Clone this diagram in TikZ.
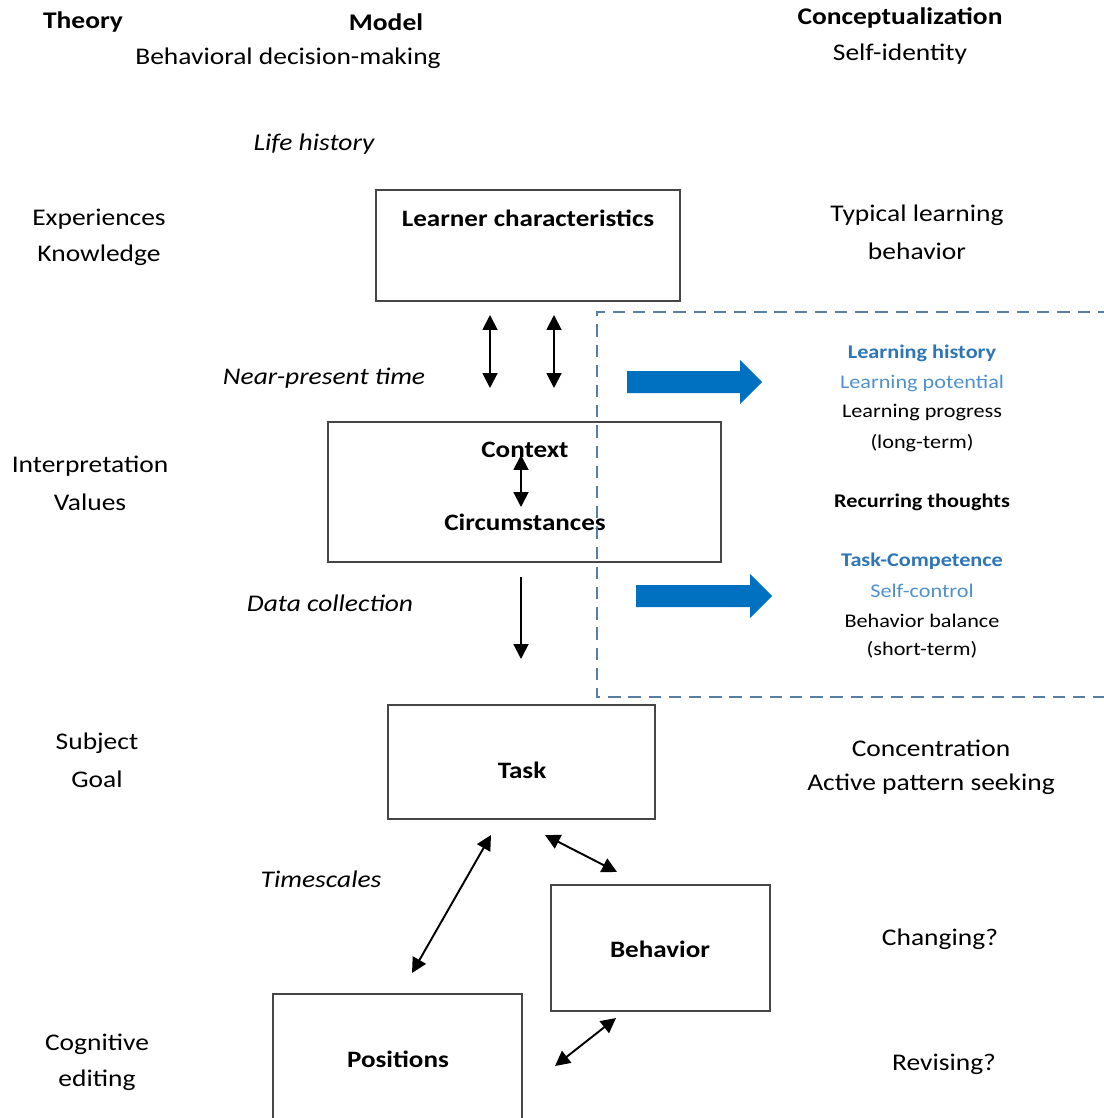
\documentclass[tikz,border=0pt]{standalone}
\usepackage{fontspec}
\setmainfont{Carlito}[FakeStretch=1.15]
\usetikzlibrary{arrows.meta}
\definecolor{arrowblue}{RGB}{0,112,192}
\definecolor{darkblue}{RGB}{46,117,182}
\definecolor{lightblue}{RGB}{80,145,205}
\definecolor{dashblue}{RGB}{88,126,164}
\definecolor{boxgray}{RGB}{70,70,70}

\begin{document}
\begin{tikzpicture}[x=0.02cm,y=-0.02cm,
    lbl/.style={font=\fontsize{13.6}{16}\selectfont},
    head/.style={font=\bfseries\fontsize{13.6}{16}\selectfont},
    ital/.style={font=\itshape\fontsize{13.6}{16}\selectfont},
    small/.style={font=\fontsize{11}{13}\selectfont},
    boxlbl/.style={font=\bfseries\fontsize{13.4}{15}\selectfont},
    modelbox/.style={draw=boxgray, line width=0.7pt, inner sep=0pt},
    link/.style={line width=1.1pt, {Triangle[length=8.5pt,width=8.5pt]}-{Triangle[length=8.5pt,width=8.5pt]}},
    onelink/.style={line width=1.1pt, -{Triangle[length=8.5pt,width=8.5pt]}}]

        \useasboundingbox (0,0) rectangle (1104,1118);
        \clip (0,0) rectangle (1104,1118);

        % column heads
        \node[head] (theory) at (83,22) {Theory};
        \node[head] (model) at (386,22) {Model};
        \node[lbl] (decision) at (288,58) {Behavioral decision-making};
        \node[head] (concept) at (900,18) {Conceptualization};
        \node[lbl] (identity) at (900,54) {Self-identity};

        % theory column
        \node[lbl] (exp) at (99,219) {Experiences};
        \node[lbl] (know) at (99,255) {Knowledge};
        \node[lbl] (interp) at (90,466) {Interpretation};
        \node[lbl] (values) at (90,502) {Values};
        \node[lbl] (subject) at (97,743) {Subject};
        \node[lbl] (goal) at (97,779) {Goal};
        \node[lbl] (cogn) at (97,1044) {Cognitive};
        \node[lbl] (edit) at (97,1080) {editing};

        % time labels
        \node[ital] (life) at (314,144) {Life history};
        \node[ital] (near) at (324,378) {Near-present time};
        \node[ital] (data) at (330,603) {Data collection};
        \node[ital] (times) at (321,879) {Timescales};

        % model boxes
        \node[modelbox, minimum width=6.08cm, minimum height=2.22cm] (learner) at (528,245.5) {};
        \node[boxlbl] (learnerlbl) at (528,218) {Learner characteristics};
        \node[modelbox, minimum width=7.86cm, minimum height=2.8cm] (context) at (524.5,492) {};
        \node[boxlbl] (ctx) at (525,450) {Context};
        \node[boxlbl] (circ) at (525,522) {Circumstances};
        \node[modelbox, minimum width=5.34cm, minimum height=2.28cm] (task) at (521.5,762) {};
        \node[boxlbl] (tasklbl) at (522,770) {Task};
        \node[modelbox, minimum width=4.38cm, minimum height=2.52cm] (behavior) at (660.5,948) {};
        \node[boxlbl] (behlbl) at (660,949) {Behavior};
        \node[modelbox, minimum width=4.98cm, minimum height=2.6cm] (positions) at (397.5,1059) {};
        \node[boxlbl] (poslbl) at (398,1059) {Positions};

        % connector ends
        \coordinate (a1t) at (490,315);
        \coordinate (a1b) at (490,388);
        \coordinate (a2t) at (554,315);
        \coordinate (a2b) at (554,388);
        \coordinate (ct) at (521,455);
        \coordinate (cb) at (521,507);
        \coordinate (dtop) at (521,577);
        \coordinate (dbot) at (521,659);
        \coordinate (tp1) at (491,835);
        \coordinate (tp2) at (412,973);
        \coordinate (tb1) at (545,835);
        \coordinate (tb2) at (617,872);
        \coordinate (pb1) at (555,1066);
        \coordinate (pb2) at (616,1018);

        \draw[link] (a1t) -- (a1b);
        \draw[link] (a2t) -- (a2b);
        \draw[link] (ct) -- (cb);
        \draw[onelink] (dtop) -- (dbot);
        \draw[link] (tp1) -- (tp2);
        \draw[link] (tb1) -- (tb2);
        \draw[link] (pb1) -- (pb2);

        % dashed frame
        \draw[dashblue, line width=1.2pt, dash pattern=on 7pt off 4.5pt]
            (1110,312) -- (597,312) -- (597,697) -- (1110,697);

        % blue arrows
        \fill[arrowblue] (627,371) -- (740,371) -- (740,360) -- (762,382)
            -- (740,404) -- (740,393) -- (627,393) -- cycle;
        \fill[arrowblue] (636,585) -- (750,585) -- (750,574) -- (772,596)
            -- (750,618) -- (750,607) -- (636,607) -- cycle;

        % conceptualization column
        \node[lbl] (typ1) at (917,215) {Typical learning};
        \node[lbl] (typ2) at (917,251) {behavior};
        \node[small, text=darkblue, font=\bfseries\fontsize{11}{13}\selectfont] (lhist) at (922,353) {Learning history};
        \node[small, text=lightblue] (lpot) at (922,383) {Learning potential};
        \node[small] (lprog) at (922,413) {Learning progress};
        \node[small] (lterm) at (922,443) {(long-term)};
        \node[small, font=\bfseries\fontsize{11}{13}\selectfont] (recur) at (922,502) {Recurring thoughts};
        \node[small, text=darkblue, font=\bfseries\fontsize{11}{13}\selectfont] (tcomp) at (922,561) {Task-Competence};
        \node[small, text=lightblue] (sctrl) at (922,591) {Self-control};
        \node[small] (bbal) at (922,621) {Behavior balance};
        \node[small] (sterm) at (922,650) {(short-term)};
        \node[lbl] (conc) at (931,748) {Concentration};
        \node[lbl] (seek) at (931,784) {Active pattern seeking};
        \node[lbl] (chg) at (940,939) {Changing?};
        \node[lbl] (rev) at (944,1064) {Revising?};
    \end{tikzpicture}
\end{document}
